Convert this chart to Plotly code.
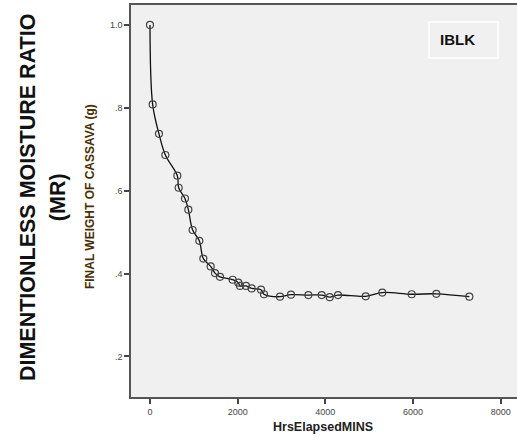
import plotly.graph_objects as go

# Data
time_mins = [0, 61, 205, 350, 624, 654, 798, 875, 973, 1125, 1217, 1384, 1483, 1597,
             1886, 2015, 2053, 2190, 2319, 2532, 2600, 2965, 3216, 3612, 3916, 4099,
             4289, 4920, 5299, 5969, 6531, 7284]
moisture_ratio = [1.0, 0.808, 0.737, 0.686, 0.636, 0.607, 0.581, 0.554, 0.505, 0.479,
                  0.436, 0.417, 0.401, 0.392, 0.385, 0.378, 0.370, 0.370, 0.364, 0.361,
                  0.350, 0.344, 0.349, 0.348, 0.348, 0.343, 0.348, 0.345, 0.354, 0.350,
                  0.351, 0.344]
y_tick_vals = [0.2, 0.4, 0.6, 0.8, 1.0]
y_tick_text = [".2", ".4", ".6", ".8", "1.0"]
x_tick_vals = [0, 2000, 4000, 6000, 8000]

fig = go.Figure()
fig.add_trace(go.Scatter(
    x=time_mins, y=moisture_ratio, mode="lines+markers",
    line=dict(color="#111111", width=1.3, shape="spline", smoothing=1.0),
    marker=dict(symbol="circle-open", size=7, color="#444444", line=dict(width=1.2)),
    showlegend=False,
))

axis_font = dict(family="Liberation Sans, Arial", size=9, color="#444444")
fig.update_layout(
    width=517, height=442,
    margin=dict(l=131, r=0, t=5, b=45),
    paper_bgcolor="white", plot_bgcolor="#f0f0f0",
    xaxis=dict(range=[-433, 8371], tickvals=x_tick_vals, ticks="outside", ticklen=5,
               tickcolor="#444444", tickwidth=1.5, showgrid=False, zeroline=False,
               showline=True, linecolor="#555555", linewidth=1.5, mirror=True,
               tickfont=axis_font),
    yaxis=dict(range=[0.102, 1.048], tickvals=y_tick_vals, ticktext=y_tick_text,
               ticks="outside", ticklen=5, tickcolor="#444444", tickwidth=1.5,
               showgrid=False, zeroline=False, showline=True, linecolor="#555555",
               linewidth=1.5, tickfont=axis_font),
    shapes=[dict(type="rect", xref="x", yref="y", x0=6364, x1=7938, y0=0.920, y1=1.007,
                 line=dict(color="white", width=1.5), fillcolor="rgba(0,0,0,0)")],
    annotations=[
        dict(text="<b>IBLK</b>", xref="x", yref="y", x=7025, y=0.964, showarrow=False,
             xanchor="center", yanchor="middle",
             font=dict(family="Liberation Sans, Arial", size=15, color="#111111")),
        dict(text="<b>HrsElapsedMINS</b>", xref="paper", yref="paper", x=0.497, y=-0.0757,
             xanchor="center", yanchor="middle", showarrow=False,
             font=dict(family="Liberation Sans, Arial", size=12.5, color="#222222")),
        dict(text="<b>FINAL WEIGHT OF CASSAVA (g)</b>", xref="paper", yref="paper",
             x=-0.1062, y=0.51, textangle=-90, showarrow=False,
             xanchor="center", yanchor="middle",
             font=dict(family="Liberation Sans Narrow, Liberation Sans, Arial", size=12, color="#4a3000")),
        dict(text="<b>DIMENTIONLESS MOISTURE RATIO</b>", xref="paper", yref="paper",
             x=-0.2668, y=0.51, textangle=-90, showarrow=False,
             xanchor="center", yanchor="middle",
             font=dict(family="Liberation Sans, Arial", size=21.5, color="#111111")),
        dict(text="<b>(MR)</b>", xref="paper", yref="paper",
             x=-0.189, y=0.51, textangle=-90, showarrow=False,
             xanchor="center", yanchor="middle",
             font=dict(family="Liberation Sans, Arial", size=21.5, color="#111111")),
    ],
)

fig.write_html("out.html", config={"displayModeBar": False},
               post_script="document.body.style.margin='0';")
